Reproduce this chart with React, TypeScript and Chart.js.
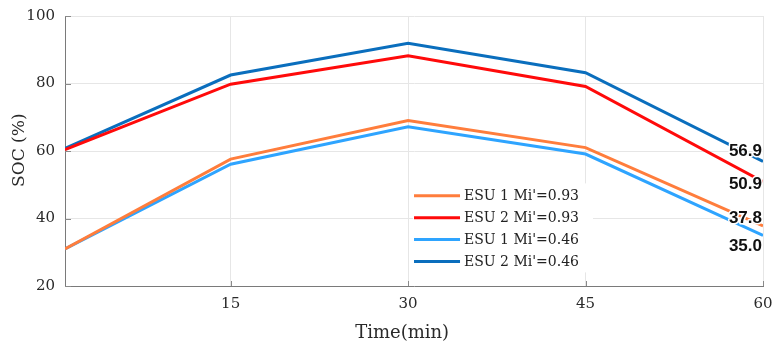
import React, { useEffect, useRef } from "react";
import { Chart, registerables } from "chart.js";

Chart.register(...registerables);

const timeMin = [1, 15, 30, 45, 60];
const xTickValues = [15, 30, 45, 60];
const yTickValues = [20, 40, 60, 80, 100];

const esu1_093 = [31.0, 57.6, 69.0, 61.0, 37.8];
const esu2_093 = [60.4, 79.8, 88.2, 79.1, 50.9];
const esu1_046 = [31.0, 56.1, 67.2, 59.1, 35.0];
const esu2_046 = [60.8, 82.5, 91.9, 83.2, 56.9];

const seriesLabels = ["ESU 1 Mi'=0.93", "ESU 2 Mi'=0.93", "ESU 1 Mi'=0.46", "ESU 2 Mi'=0.46"];
const seriesColors = ["#FF7D3C", "#FF0A0A", "#2EA4FF", "#0A6EBD"];
const labelOffsets = [-8, 3, 11, -10];

const SERIF = "'DejaVu Serif', serif";

const decorPlugin = {
  id: "decor",
  beforeDatasetsDraw(chart: any) {
    const { ctx, chartArea } = chart;
    const xs = chart.scales.x;
    const ys = chart.scales.y;
    ctx.save();
    ctx.strokeStyle = "#8a8a8a";
    ctx.lineWidth = 1;
    ctx.beginPath();
    xTickValues.forEach((v) => {
      const px = Math.round(xs.getPixelForValue(v)) + 0.5;
      ctx.moveTo(px, chartArea.bottom);
      ctx.lineTo(px, chartArea.bottom - 5);
    });
    yTickValues.forEach((v) => {
      const py = Math.round(ys.getPixelForValue(v)) + 0.5;
      ctx.moveTo(chartArea.left, py);
      ctx.lineTo(chartArea.left + 6, py);
    });
    ctx.stroke();
    ctx.restore();
  },
  afterDraw(chart: any) {
    const { ctx, chartArea } = chart;
    const w = chartArea.right - chartArea.left;
    const h = chartArea.bottom - chartArea.top;
    ctx.save();
    // axis titles
    ctx.fillStyle = "#2a2a2a";
    ctx.textAlign = "center";
    ctx.textBaseline = "middle";
    ctx.font = "17px " + SERIF;
    ctx.save();
    ctx.translate(19.5, chartArea.top + h * 0.497);
    ctx.rotate(-Math.PI / 2);
    ctx.fillText("SOC (%)", 0, 0);
    ctx.restore();
    ctx.font = "18px " + SERIF;
    ctx.fillText("Time(min)", chartArea.left + w * 0.483, chartArea.bottom + 47);

    // legend
    const lx = chartArea.left + w * 0.4986;
    const ly = chartArea.top + h * 0.62;
    ctx.fillStyle = "#ffffff";
    ctx.fillRect(lx, ly, 180, 89);
    const rowY0 = chartArea.top + h * 0.666;
    ctx.font = "14px " + SERIF;
    ctx.textAlign = "left";
    chart.data.datasets.forEach((ds: any, i: number) => {
      const y = rowY0 + i * 21.9;
      ctx.strokeStyle = ds.borderColor;
      ctx.lineWidth = 3;
      ctx.beginPath();
      ctx.moveTo(lx + 1, y);
      ctx.lineTo(lx + 47, y);
      ctx.stroke();
      ctx.fillStyle = "#222";
      ctx.fillText(ds.label, lx + 51, y + 1);
    });

    // end value labels
    ctx.font = "bold 17px 'Liberation Sans', Arial, sans-serif";
    ctx.textAlign = "right";
    ctx.textBaseline = "middle";
    ctx.lineJoin = "round";
    chart.data.datasets.forEach((ds: any, i: number) => {
      const last = ds.data[ds.data.length - 1];
      const px = chartArea.right - 1;
      const py = chart.scales.y.getPixelForValue(last.y) + labelOffsets[i];
      const txt = last.y.toFixed(1);
      ctx.strokeStyle = "#ffffff";
      ctx.lineWidth = 3;
      ctx.strokeText(txt, px, py);
      ctx.fillStyle = "#111";
      ctx.fillText(txt, px, py);
    });
    ctx.restore();
  },
};

export default function App() {
  const ref = useRef<HTMLCanvasElement>(null);
  useEffect(() => {
    document.body.style.margin = "0";
    const series = [esu1_093, esu2_093, esu1_046, esu2_046];
    const chart = new Chart(ref.current as HTMLCanvasElement, {
      type: "line",
      data: {
        datasets: series.map((s, i) => ({
          label: seriesLabels[i],
          data: s.map((v, j) => ({ x: timeMin[j], y: v })),
          borderColor: seriesColors[i],
          backgroundColor: seriesColors[i],
          borderWidth: 3,
          pointRadius: 0,
          tension: 0,
          fill: false,
        })),
      },
      options: {
        responsive: false,
        animation: false,
        events: [],
        layout: { padding: { top: 16, right: 9, left: 0, bottom: 0 } },
        plugins: { legend: { display: false }, tooltip: { enabled: false }, title: { display: false } },
        scales: {
          x: {
            type: "linear",
            min: 1,
            max: 60,
            afterBuildTicks: (scale: any) => {
              scale.ticks = xTickValues.map((v) => ({ value: v }));
            },
            afterFit: (scale: any) => {
              scale.height = 57;
              scale.paddingLeft = 0;
              scale.paddingRight = 0;
            },
            grid: { color: "#e6e6e6", lineWidth: 1, drawTicks: false },
            border: { color: "#7a7a7a", width: 1 },
            ticks: {
              padding: 9,
              color: "#2a2a2a",
              font: { family: SERIF, size: 15 },
              maxRotation: 0,
              autoSkip: false,
            },
          },
          y: {
            min: 20,
            max: 100,
            afterBuildTicks: (scale: any) => {
              scale.ticks = yTickValues.map((v) => ({ value: v }));
            },
            afterFit: (scale: any) => {
              scale.width = 65;
              scale.paddingTop = 0;
              scale.paddingBottom = 0;
            },
            grid: { color: "#e6e6e6", lineWidth: 1, drawTicks: false },
            border: { color: "#7a7a7a", width: 1 },
            ticks: {
              padding: 10,
              color: "#2a2a2a",
              font: { family: SERIF, size: 15 },
            },
          },
        },
      },
      plugins: [decorPlugin],
    } as any);
    return () => chart.destroy();
  }, []);
  return <canvas ref={ref} width={772} height={343} style={{ display: "block" }} />;
}
